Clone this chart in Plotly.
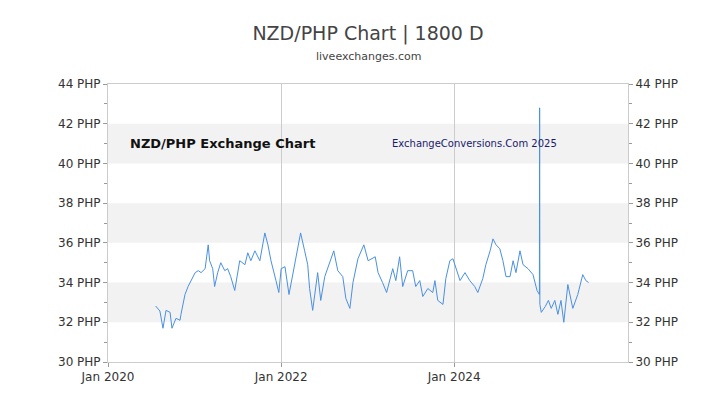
import plotly.graph_objects as go

dates = ["2020-07-20","2020-08-07","2020-08-20","2020-09-02","2020-09-19","2020-09-27","2020-10-14","2020-10-31","2020-11-04","2020-11-21",
"2020-12-04","2020-12-17","2021-01-03","2021-01-16","2021-01-28","2021-02-14","2021-02-27","2021-03-05","2021-03-18","2021-03-26",
"2021-04-08","2021-04-21","2021-05-08","2021-05-20","2021-06-02","2021-06-19","2021-07-10","2021-08-01","2021-08-13","2021-08-26",
"2021-09-12","2021-10-03","2021-10-24","2021-11-06","2021-11-19","2021-12-10","2021-12-22","2022-01-01","2022-01-17","2022-02-03",
"2022-02-20","2022-03-07","2022-03-24","2022-04-10","2022-04-23","2022-05-01","2022-05-14","2022-06-04","2022-06-17","2022-07-04",
"2022-07-25","2022-08-11","2022-08-28","2022-09-18","2022-10-01","2022-10-18","2022-10-31","2022-11-21","2022-12-16","2023-01-03",
"2023-02-02","2023-02-14","2023-03-05","2023-03-22","2023-04-17","2023-04-30","2023-05-16","2023-05-29","2023-06-19","2023-07-10",
"2023-07-23","2023-08-09","2023-08-22","2023-09-12","2023-10-03","2023-10-12","2023-10-24","2023-11-15","2023-11-27","2023-12-14",
"2023-12-27","2024-01-09","2024-01-26","2024-02-16","2024-03-07","2024-03-28","2024-04-10","2024-05-01","2024-05-14","2024-06-01",
"2024-06-13","2024-06-26","2024-07-12","2024-07-25","2024-08-07","2024-08-24","2024-09-06","2024-09-18","2024-10-05","2024-10-18",
"2024-11-08","2024-11-29","2024-12-16","2024-12-26","2024-12-27","2024-12-28","2025-01-03","2025-01-20","2025-02-02","2025-02-14",
"2025-03-01","2025-03-14","2025-03-27","2025-04-08","2025-04-25","2025-05-16","2025-06-06","2025-06-27","2025-07-10","2025-07-22"]
rates = [32.82,32.57,31.7,32.6,32.5,31.7,32.2,32.1,32.4,33.4,
33.8,34.1,34.5,34.6,34.5,34.7,35.9,35.1,34.7,33.8,
34.5,35.0,34.6,34.7,34.3,33.6,35.1,34.9,35.5,35.1,
35.6,35.1,36.5,35.9,35.1,34.1,33.5,34.7,34.8,33.4,
34.5,35.6,36.5,35.6,34.9,33.7,32.6,34.5,33.1,34.3,
35.0,35.6,34.6,34.3,33.2,32.7,34.0,35.2,35.9,35.1,
35.3,34.5,34.0,33.5,34.7,34.1,35.3,33.8,34.6,34.6,
33.8,34.1,33.3,33.7,33.5,34.1,33.1,32.9,34.2,35.1,
35.2,34.7,34.1,34.5,34.1,33.8,33.5,34.2,34.9,35.6,
36.2,35.9,35.7,35.1,34.3,34.3,35.1,34.5,35.6,34.9,
34.7,34.4,33.6,33.4,42.8,32.9,32.5,32.8,33.1,32.7,
33.1,32.4,33.1,32.0,33.9,32.7,33.4,34.4,34.1,34.0]
band_ranges = [(32, 34), (36, 38), (40, 42)]
y_ticks = [30, 32, 34, 36, 38, 40, 42, 44]
y_labels = [f"{v} PHP" for v in y_ticks]
x_ticks = ["2020-01-01", "2022-01-01", "2024-01-01"]
x_labels = ["Jan 2020", "Jan 2022", "Jan 2024"]

fig = go.Figure()
fig.add_trace(go.Scatter(x=dates, y=rates, mode="lines", line=dict(color="#4a90e2", width=1), showlegend=False))
fig.add_trace(go.Scatter(x=dates, y=rates, mode="lines", line=dict(width=0), yaxis="y2", showlegend=False, hoverinfo="skip"))

for lo, hi in band_ranges:
    fig.add_shape(type="rect", xref="paper", x0=0, x1=1, yref="y", y0=lo, y1=hi,
                  fillcolor="#f2f2f2", line_width=0, layer="below")

axis_font = dict(family="DejaVu Sans", size=12, color="#333")
common_y = dict(range=[30, 44], tickvals=y_ticks, ticktext=y_labels, showgrid=False, zeroline=False,
                tickfont=axis_font, ticks="outside", ticklen=4, tickcolor="#999",
                minor=dict(tickvals=[31, 33, 35, 37, 39, 41, 43], ticks="outside", ticklen=3, tickcolor="#999"))
fig.update_layout(
    width=720, height=405, plot_bgcolor="white", paper_bgcolor="white",
    margin=dict(l=100, r=100, t=76, b=51, autoexpand=False),
    title=dict(text="NZD/PHP Chart | 1800 D", x=0.5, xanchor="center", y=0.955, yanchor="top",
               font=dict(family="DejaVu Sans", size=19, color="#444")),
    xaxis=dict(range=["2020-01-01", "2026-01-04"], tickvals=x_ticks, ticktext=x_labels, tickfont=axis_font,
               showgrid=True, gridcolor="#cccccc", zeroline=False, showline=True, linecolor="#ccc",
               ticks="outside", ticklen=4, tickcolor="#999", mirror=True),
    yaxis=dict(**common_y, showline=True, linecolor="#ccc"),
    yaxis2=dict(**common_y, overlaying="y", side="right", showline=True, linecolor="#ccc"),
    annotations=[
        dict(text="liveexchanges.com", xref="paper", yref="paper", x=0.5, y=1.07, xanchor="center", yanchor="bottom",
             showarrow=False, font=dict(family="DejaVu Sans", size=11, color="#444")),
        dict(text="<b>NZD/PHP Exchange Chart</b>", xref="paper", yref="y", x=0.038, y=41, xanchor="left",
             showarrow=False, font=dict(family="DejaVu Sans", size=13, color="#111")),
        dict(text="ExchangeConversions.Com 2025", xref="paper", yref="y", x=0.542, y=41, xanchor="left",
             showarrow=False, font=dict(family="DejaVu Sans", size=10, color="#1a1a6e")),
    ],
)
fig.write_html("out.html")
